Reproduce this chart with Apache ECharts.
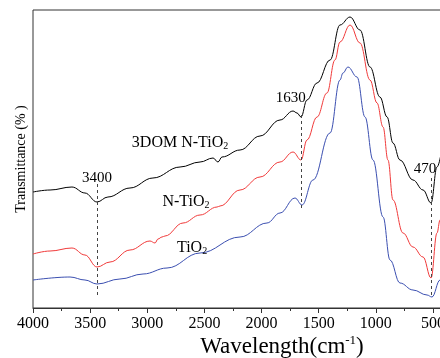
<!DOCTYPE html>
<html><head><meta charset="utf-8">
<script src="https://cdn.jsdelivr.net/npm/echarts@6/dist/echarts.min.js"></script>
<style>html,body{margin:0;padding:0;background:#fff}#c{width:440px;height:358px}</style>
</head><body><div id="c"></div>
<script>
// wavenumber (cm-1) and relative transmittance (arbitrary units)
const blackWn = [4000,3851,3659,3545,3440,3344,3151,2950,2713,2538,2424,2381,2346,2188,2013,1838,1724,1689,1654,1602,1514,1400,1313,1225,1138,1050,963,901,849,788,674,586,516,464,400];
const blackT  = [116,118,121,115,106,111,120,130,141,146,150,146,151,158,172,188,197,195,191,208,225,248,283,291,278,241,211,191,165,148,128,118,105,141,175];
const redWn = [4000,3851,3659,3545,3440,3326,3151,2976,2932,2906,2871,2845,2687,2538,2389,2363,2188,2013,1838,1724,1654,1602,1514,1427,1357,1313,1225,1138,1050,989,936,893,849,761,674,586,516,464,437,400];
const redT  = [54,57,60,53,41,46,58,67,65,69,71,72,85,93,101,102,118,131,146,156,148,168,191,215,248,266,283,265,228,205,181,148,108,75,61,51,30,75,88,110];
const blueWn = [4000,3676,3545,3440,3239,3037,2827,2538,2188,1952,1838,1707,1645,1549,1400,1313,1287,1243,1164,1094,1024,936,875,788,674,551,508,437,400];
const blueT  = [28,31,28,24,29,34,40,55,71,85,95,110,103,128,175,228,235,241,231,191,148,91,48,25,18,13,11,28,40];
const seriesNames = ['3DOM N-TiO2','N-TiO2','TiO2'];
const xTicks = [4000,3500,3000,2500,2000,1500,1000,500];
const peakLabels = ['3400','1630','470'];
const peakWn = [3440,1655,510];

const FONT = '"Liberation Serif","Times New Roman",serif';
const zip = (a,b)=>a.map((v,i)=>[v,b[i]]);

function nameLabel(text, wn, t, fs){
  return {coord:[wn,t], symbol:'circle', symbolSize:0,
    label:{show:true, position:'inside', formatter:text, color:'#000', fontFamily:FONT,
      rich:{a:{fontSize:fs,fontFamily:FONT,color:'#000'}, s:{fontSize:10,fontFamily:FONT,color:'#000',verticalAlign:'bottom',padding:[5,0,0,0]}}}};
}

const chart = echarts.init(document.getElementById('c'));
chart.setOption({
  animation:false,
  grid:{left:33, right:-50, top:10, bottom:50, outerBoundsMode:'none', containLabel:false, show:true, borderColor:'#333', borderWidth:1},
  xAxis:{type:'value', inverse:true, min:0, max:4000, interval:500,
    axisLine:{show:true, lineStyle:{color:'#333', width:1}},
    axisTick:{show:true, length:5, inside:false, lineStyle:{color:'#333'}},
    minorTick:{show:true, splitNumber:2, length:3, lineStyle:{color:'#333'}},
    splitLine:{show:false},
    axisLabel:{color:'#000', fontSize:16, fontFamily:FONT, margin:8,
      formatter:v=> xTicks.indexOf(v)>=0 ? String(v) : ''},
    name:'{a|Wavelength(cm}{b|-1}{a|)}', nameLocation:'start', nameGap:-208, nameTextStyle:{align:'center', verticalAlign:'top', padding:[26,0,0,0],
      rich:{a:{fontSize:23,fontFamily:FONT,color:'#000'}, b:{fontSize:13,fontFamily:FONT,color:'#000',verticalAlign:'top',padding:[0,0,12,0]}}}
  },
  yAxis:{type:'value', min:0, max:298,
    axisLine:{show:true, lineStyle:{color:'#333', width:1}},
    axisTick:{show:false}, axisLabel:{show:false}, splitLine:{show:false},
    name:'Transmittance (% )', nameLocation:'middle', nameGap:5, nameRotate:90,
    nameTextStyle:{fontSize:14, fontFamily:FONT, color:'#000'}
  },
  series:[
    {name:seriesNames[0], type:'line', data:zip(blackWn,blackT), showSymbol:false, smooth:0.4, smoothMonotone:'x',
      lineStyle:{color:'#000', width:1}, itemStyle:{color:'#000'},
      markPoint:{silent:true, data:[
        nameLabel('{a|3DOM N-TiO}{s|2}', 2713, 165, 16),
        nameLabel('{a|'+peakLabels[0]+'}', 3440, 130, 15),
        nameLabel('{a|'+peakLabels[1]+'}', 1745, 210, 15),
        nameLabel('{a|'+peakLabels[2]+'}', 569, 139, 15)
      ]},
      markLine:{silent:true, symbol:'none', label:{show:false},
        lineStyle:{color:'#444', type:[3,3], width:1},
        data:[
          [{coord:[peakWn[0],124]},{coord:[peakWn[0],11]}],
          [{coord:[peakWn[1],193]},{coord:[peakWn[1],98]}],
          [{coord:[peakWn[2],130]},{coord:[peakWn[2],10]}]
        ]}
    },
    {name:seriesNames[1], type:'line', data:zip(redWn,redT), showSymbol:false, smooth:0.4, smoothMonotone:'x',
      lineStyle:{color:'#f03a3a', width:1}, itemStyle:{color:'#f03a3a'},
      markPoint:{silent:true, data:[nameLabel('{a|N-TiO}{s|2}', 2661, 106, 16)]}
    },
    {name:seriesNames[2], type:'line', data:zip(blueWn,blueT), showSymbol:false, smooth:0.4, smoothMonotone:'x',
      lineStyle:{color:'#3b4fb0', width:1}, itemStyle:{color:'#3b4fb0'},
      markPoint:{silent:true, data:[nameLabel('{a|TiO}{s|2}', 2608, 60, 16)]}
    }
  ]
});
</script></body></html>
